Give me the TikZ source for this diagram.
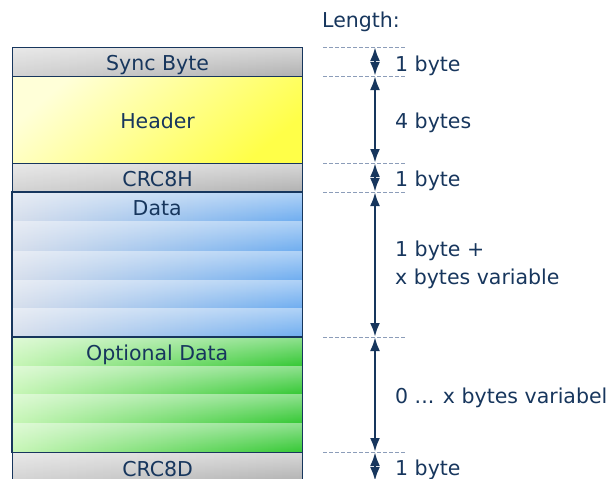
\documentclass[tikz,border=0pt]{standalone}
\usepackage{fontspec}
\setmainfont{DejaVu Sans}
\usetikzlibrary{arrows.meta, fadings}

\definecolor{navy}{HTML}{17365D}
\definecolor{guidegray}{HTML}{8C9DB9}
\definecolor{graylight}{HTML}{D2D2D2}
\definecolor{graydark}{HTML}{B0B0B0}
\definecolor{yellowlight}{HTML}{FFFFD8}
\definecolor{yellowdark}{HTML}{FFFF48}
\definecolor{bluelight}{HTML}{D6DEEC}
\definecolor{bluedark}{HTML}{6EADF0}
\definecolor{greenlight}{HTML}{C6F6B6}
\definecolor{greendark}{HTML}{34C834}

\tikzset{
  field/.style={minimum width=290pt, inner sep=0pt, anchor=north west, text=navy, text height=17pt, text depth=0pt},
  sheen/.style={path picture={\fill[white, fill opacity=#1, path fading=south]
      (path picture bounding box.north west) rectangle (path picture bounding box.south east);}},
  grayfield/.style={field, draw=navy, line width=1.2pt, left color=graylight, right color=graydark, sheen=0.5},
  yellowfield/.style={field, draw=navy, line width=1.2pt, top color=yellowlight, bottom color=yellowdark, shading angle=40},
  bluestripe/.style={field, left color=bluelight, right color=bluedark, sheen=0.45},
  greenstripe/.style={field, left color=greenlight, right color=greendark, sheen=0.45},
  frame/.style={draw=navy, line width=1.2pt},
  span/.style={draw=navy, line width=2.5pt, {Latex[length=14pt,width=10pt]}-{Latex[length=14pt,width=10pt]}},
  guide/.style={draw=guidegray, line width=0.8pt, dash pattern=on 4pt off 2pt},
  lenlabel/.style={anchor=west, text=navy, inner sep=0pt, align=left}
}

\begin{document}
\begin{tikzpicture}[x=1pt, y=-1pt, font=\fontsize{20.5}{28}\selectfont]
  \useasboundingbox (0,0) rectangle (611,479);

  % frame fields
  \node[grayfield, minimum height=29pt] (sync) at (12,47) {Sync Byte};
  \node[yellowfield, minimum height=87pt] (header) at (12,76) {Header};
  \node[grayfield, minimum height=29pt] (crch) at (12,163) {CRC8H};

  \node[bluestripe, minimum height=29pt] (data1) at (12,192) {Data};
  \node[bluestripe, minimum height=30pt] (data2) at (12,221) {};
  \node[bluestripe, minimum height=29pt] (data3) at (12,251) {};
  \node[bluestripe, minimum height=28pt] (data4) at (12,280) {};
  \node[bluestripe, minimum height=29pt] (data5) at (12,308) {};
  \draw[frame] (data1.north west) rectangle (data5.south east);

  \node[greenstripe, minimum height=29pt] (opt1) at (12,337) {Optional Data};
  \node[greenstripe, minimum height=28pt] (opt2) at (12,366) {};
  \node[greenstripe, minimum height=29pt] (opt3) at (12,394) {};
  \node[greenstripe, minimum height=29pt] (opt4) at (12,423) {};
  \draw[frame] (opt1.north west) rectangle (opt4.south east);

  \node[grayfield, minimum height=30pt] (crcd) at (12,452) {CRC8D};

  % length marks
  \node[lenlabel] (length) at (322,22) {Length:};

  \coordinate (m0) at (375,47);
  \coordinate (m1) at (375,76);
  \coordinate (m2) at (375,163);
  \coordinate (m3) at (375,192);
  \coordinate (m4) at (375,337);
  \coordinate (m5) at (375,452);
  \coordinate (m6) at (375,481);

  \draw[guide] ([xshift=-52pt]m0) -- ([xshift=30pt]m0);
  \draw[guide] ([xshift=-52pt]m1) -- ([xshift=30pt]m1);
  \draw[guide] ([xshift=-52pt]m2) -- ([xshift=30pt]m2);
  \draw[guide] ([xshift=-52pt]m3) -- ([xshift=30pt]m3);
  \draw[guide] ([xshift=-52pt]m4) -- ([xshift=30pt]m4);
  \draw[guide] ([xshift=-52pt]m5) -- ([xshift=30pt]m5);

  \draw[span] (m0) -- (m1);
  \draw[span] (m1) -- (m2);
  \draw[span] (m2) -- (m3);
  \draw[span] (m3) -- (m4);
  \draw[span] (m4) -- (m5);
  \draw[span] (m5) -- (m6);

  \node[lenlabel] (lsync) at (395,65.5) {1 byte};
  \node[lenlabel] (lheader) at (395,123) {4 bytes};
  \node[lenlabel] (lcrch) at (395,180.5) {1 byte};
  \node[lenlabel] (ldata) at (395,265) {1 byte +\\x bytes variable};
  \node[lenlabel] (lopt) at (395,398) {0 ... x bytes variabel};
  \node[lenlabel] (lcrcd) at (395,469.5) {1 byte};
\end{tikzpicture}
\end{document}
